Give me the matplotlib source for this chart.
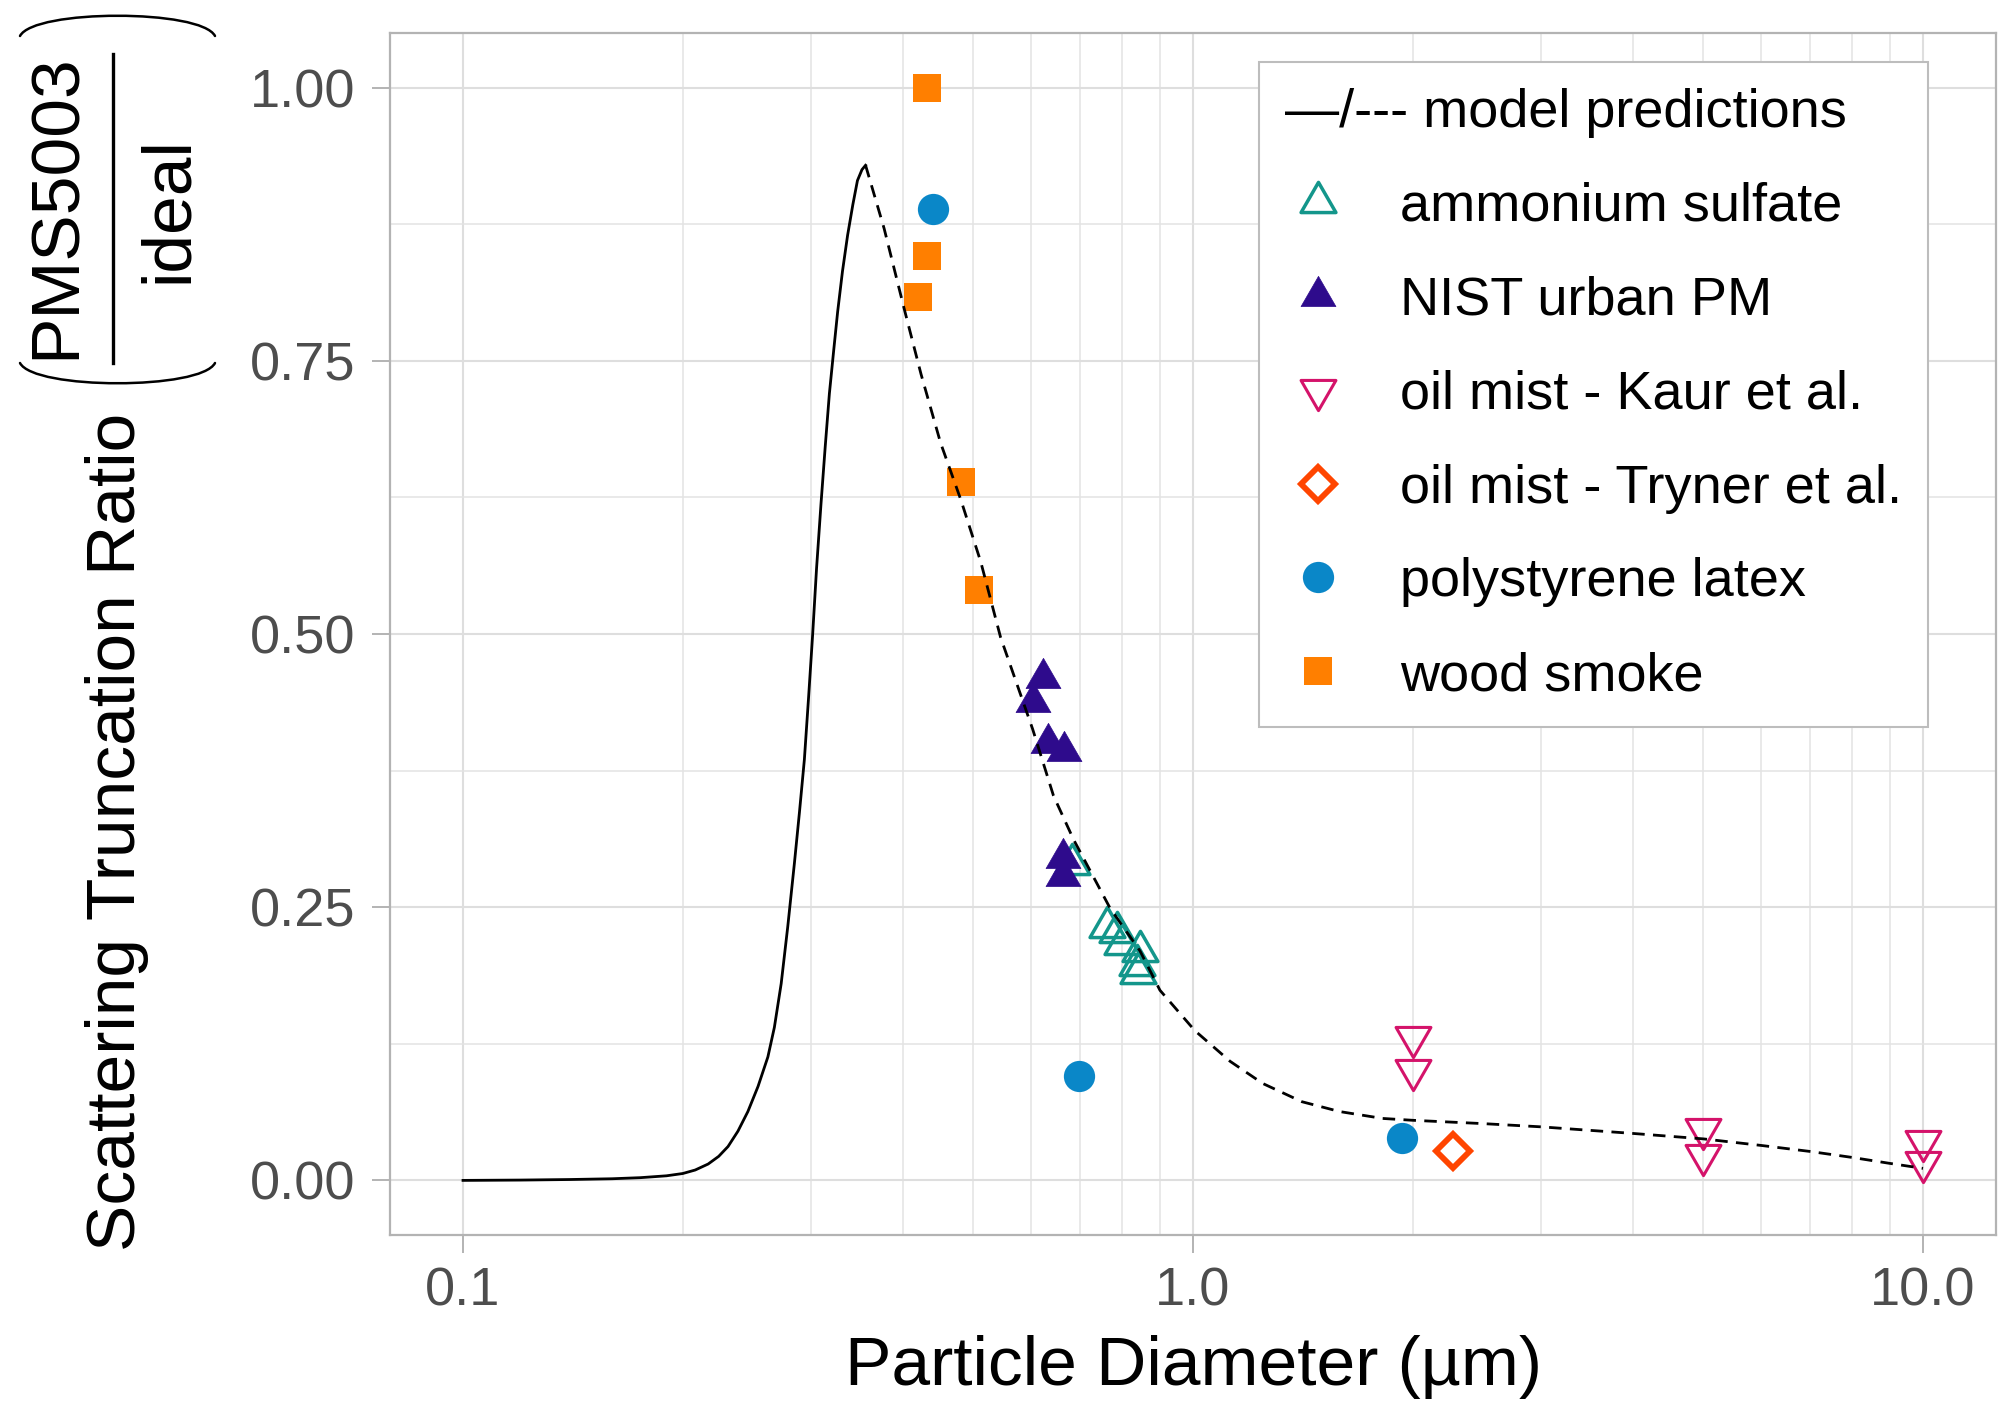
import numpy as np
import matplotlib
matplotlib.use("Agg")
import matplotlib.pyplot as plt
from matplotlib.path import Path
from matplotlib.patches import PathPatch
from matplotlib.lines import Line2D

plt.rcParams['font.family'] = ['Liberation Sans', 'DejaVu Sans']

# model curve (solid part, rising)
model_d_solid = [0.1, 0.12, 0.14, 0.16, 0.175, 0.19, 0.2, 0.208, 0.2167, 0.224, 0.2307,
                 0.238, 0.2456, 0.2536, 0.2616, 0.267, 0.2728, 0.2785, 0.2844, 0.289,
                 0.2935, 0.2975, 0.3013, 0.305, 0.3093, 0.3135, 0.3176, 0.322, 0.326,
                 0.331, 0.3364, 0.342, 0.347, 0.352, 0.356]
model_v_solid = [0.0, 0.0003, 0.0008, 0.0015, 0.0025, 0.0042, 0.0063, 0.0095, 0.0150, 0.022,
                 0.031, 0.045, 0.063, 0.086, 0.113, 0.140, 0.180, 0.232, 0.290, 0.337,
                 0.385, 0.443, 0.500, 0.560, 0.619, 0.672, 0.720, 0.760, 0.795,
                 0.832, 0.865, 0.893, 0.915, 0.925, 0.929]

# model curve (dashed part, falling)
model_d_dash = [0.356, 0.3775, 0.402, 0.424, 0.451, 0.481, 0.512, 0.545, 0.603, 0.644,
                0.686, 0.77, 0.846, 0.901, 1.006, 1.124, 1.246, 1.41, 1.588, 1.818,
                2.0, 2.49, 3.0, 4.0, 5.0, 6.0, 7.0, 8.0, 9.0, 10.0]
model_v_dash = [0.929, 0.871, 0.798, 0.738, 0.675, 0.6225, 0.566, 0.497, 0.413, 0.352,
                0.312, 0.249, 0.210, 0.174, 0.137, 0.109, 0.0887, 0.072, 0.063, 0.0567,
                0.055, 0.052, 0.049, 0.043, 0.038, 0.032, 0.0265, 0.021, 0.0156, 0.011]

# measurements
as_d = [0.683, 0.762, 0.787, 0.80, 0.846, 0.837, 0.84]
as_v = [0.290, 0.232, 0.227, 0.216, 0.210, 0.197, 0.190]

nist_d = [0.623, 0.603, 0.633, 0.665, 0.663, 0.663]
nist_v = [0.460, 0.438, 0.400, 0.393, 0.2946, 0.279]

kaur_d = [2.0, 2.0, 5.0, 5.0, 10.0, 10.0]
kaur_v = [0.131, 0.1006, 0.0467, 0.0229, 0.0357, 0.0165]

tryner_d = [2.273]
tryner_v = [0.0265]

psl_d = [0.44, 0.698, 1.936]
psl_v = [0.889, 0.0956, 0.039]

wood_d = [0.432, 0.432, 0.42, 0.481, 0.509]
wood_v = [1.0, 0.846, 0.808, 0.639, 0.540]

labels = ["ammonium sulfate", "NIST urban PM", "oil mist - Kaur et al.",
          "oil mist - Tryner et al.", "polystyrene latex", "wood smoke"]
colors = ["#13968B", "#2E0B8C", "#D4136A", "#FF4500", "#0A87C8", "#FF7F00"]

x_major = [0.1, 1.0, 10.0]
x_major_labels = ["0.1", "1.0", "10.0"]
x_minor = [m * 10.0 ** e for e in (-1, 0) for m in range(2, 10)]
y_major = [0.0, 0.25, 0.5, 0.75, 1.0]
y_major_labels = ["0.00", "0.25", "0.50", "0.75", "1.00"]
y_minor = [0.125, 0.375, 0.625, 0.875]

# equilateral triangles centred on centroid (like R pch 2/17/6)
s3 = np.sqrt(3)
tri_up = Path([(-1, -1 / s3), (1, -1 / s3), (0, 2 / s3), (-1, -1 / s3)],
              [Path.MOVETO, Path.LINETO, Path.LINETO, Path.CLOSEPOLY])
tri_down = Path([(-1, 1 / s3), (1, 1 / s3), (0, -2 / s3), (-1, 1 / s3)],
                [Path.MOVETO, Path.LINETO, Path.LINETO, Path.CLOSEPOLY])

W, H = 1998, 1406
fig = plt.figure(figsize=(W / 100, H / 100), dpi=100)
ax = fig.add_axes([0.1952, 0.1216, 0.8038, 0.8549])

ax.plot(model_d_solid, model_v_solid, color='black', lw=2.0, zorder=5)
ax.plot(model_d_dash, model_v_dash, color='black', lw=2.0, dashes=(4.5, 3), zorder=5)

h1, = ax.plot(as_d, as_v, ls='none', marker=tri_up, ms=29, mfc='none',
              mec=colors[0], mew=2.5, label=labels[0])
h2, = ax.plot(nist_d, nist_v, ls='none', marker=tri_up, ms=29, mfc=colors[1],
              mec=colors[1], mew=0.5, label=labels[1])
h3, = ax.plot(kaur_d, kaur_v, ls='none', marker=tri_down, ms=29, mfc='none',
              mec=colors[2], mew=2.2, label=labels[2])
h4, = ax.plot(tryner_d, tryner_v, ls='none', marker='D', ms=17, mfc='none',
              mec=colors[3], mew=4.2, label=labels[3])
h5, = ax.plot(psl_d, psl_v, ls='none', marker='o', ms=22.5, mfc=colors[4],
              mec=colors[4], mew=0, label=labels[4])
h6, = ax.plot(wood_d, wood_v, ls='none', marker='s', ms=19.5, mfc=colors[5],
              mec=colors[5], mew=0, label=labels[5])

ax.set_xscale('log')
ax.set_xlim(10 ** -1.1, 10 ** 1.1)
ax.set_ylim(-0.05, 1.05)

ax.set_xticks(x_major)
ax.set_xticklabels(x_major_labels)
ax.set_xticks(x_minor, minor=True)
ax.set_yticks(y_major)
ax.set_yticklabels(y_major_labels)
ax.set_yticks(y_minor, minor=True)

ax.tick_params(which='major', length=13, width=1.4, color='#B3B3B3',
               labelsize=39, labelcolor='#4D4D4D')
ax.tick_params(axis='y', which='major', pad=12)
ax.tick_params(axis='x', which='major', pad=10)
ax.tick_params(which='minor', length=0)

ax.grid(which='major', color='#DEDEDE', lw=1.5)
ax.grid(which='minor', color='#E3E3E3', lw=1.1)
ax.set_axisbelow(True)
for sp in ax.spines.values():
    sp.set_color('#B3B3B3')
    sp.set_linewidth(1.6)

ax.set_xlabel("Particle Diameter (µm)", fontsize=50, color='black')
ax.xaxis.set_label_coords(0.5, -0.083)


# y axis title: text plus a bracketed fraction, placed in pixel units
def fx(px):
    return px / W


def fy(py):
    return 1 - py / H


rot = dict(rotation=90, rotation_mode='anchor', ha='center', va='baseline',
           color='black')
fig.text(fx(135), fy(832), "Scattering Truncation Ratio", fontsize=50, **rot)
fig.text(fx(75), fy(206), "PMS5003", fontsize=50, **rot)
fig.text(fx(187), fy(210), "ideal", fontsize=50, **rot)
fig.add_artist(Line2D([fx(113), fx(113)], [fy(54), fy(363)],
                      transform=fig.transFigure, color='black', lw=2.4))
for y_end, y_ctrl in [(36, 9), (363, 390)]:
    paren = Path([(fx(20), fy(y_end)), (fx(34), fy(y_ctrl)), (fx(201), fy(y_ctrl)),
                  (fx(215), fy(y_end))],
                 [Path.MOVETO, Path.CURVE4, Path.CURVE4, Path.CURVE4])
    fig.add_artist(PathPatch(paren, transform=fig.transFigure, facecolor='none',
                             edgecolor='black', lw=1.8, capstyle='round'))

leg = ax.legend(handles=[h1, h2, h3, h4, h5, h6], title="—/--- model predictions",
                loc='upper right', bbox_to_anchor=(0.9577, 0.9759), borderaxespad=0,
                fontsize=39, title_fontsize=39, alignment='left',
                handlelength=1.22, handletextpad=0.9, borderpad=0.48,
                labelspacing=0.81, fancybox=False, framealpha=1,
                edgecolor='#BDBDBD')
leg.get_frame().set_linewidth(1.5)

fig.savefig('out.png', dpi=100)
